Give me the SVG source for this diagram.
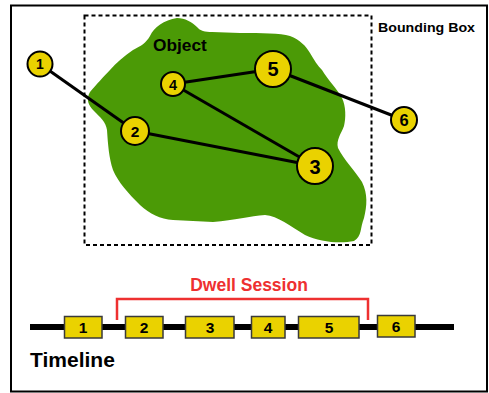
<svg xmlns="http://www.w3.org/2000/svg" width="489" height="393" viewBox="0 0 489 393">
  <style>
    .lbl { font-family: "Liberation Sans", Arial, sans-serif; font-weight: bold; }
    .pt circle { fill: #ead200; stroke: #000; stroke-width: 2; }
    .pt text, .ev text { font-family: "Liberation Sans", Arial, sans-serif; font-weight: bold; fill: #000; text-anchor: middle; }
    .ev rect { fill: #ead200; stroke: #3a3a3a; stroke-width: 1.5; }
    .link { stroke: #000; stroke-width: 3; fill: none; }
  </style>

  <!-- frame -->
  <rect x="11" y="5.5" width="476" height="386" fill="#fff" stroke="#000" stroke-width="2"/>

  <!-- object region -->
  <path id="object" fill="#4b9a06" d="M90,92 C96,85 104,76 110,70 C116,63 124,56 133,50 C141,46 146,43 150,36 C154,27 164,20 177,18 C185,18 192,22 197,27 C200,31 205,32 212,32 L240,33 C262,33 280,33 290,36 C300,40 306,46 310,53 C314,60 318,66 322,70 C328,80 338,90 342,98 C346,106 346,118 344,126 C341,134 336,140 338,148 C344,160 356,172 362,182 C368,194 367,206 364,218 C360,228 362,236 354,241 C340,244 320,242 305,235 C290,226 278,216 265,215 C250,216 235,220 213,222 L173,220 C160,219 150,214 140,205 C128,193 118,182 113,170 C109,158 108,145 107,130 C106,122 100,117 94,111 C88,105 86,99 90,92 Z"/>

  <!-- bounding box -->
  <rect x="84.5" y="15.5" width="287" height="229.5" fill="none" stroke="#000" stroke-width="2" stroke-dasharray="4,3"/>
  <text class="lbl" x="378" y="32" font-size="13.5" textLength="97" lengthAdjust="spacingAndGlyphs">Bounding Box</text>
  <text class="lbl" x="153" y="51" font-size="17.3">Object</text>

  <!-- trajectory -->
  <g id="connectors">
    <line class="link" x1="40" y1="64" x2="135" y2="131"/>
    <line class="link" x1="135" y1="131" x2="315" y2="166"/>
    <line class="link" x1="173" y1="84" x2="315" y2="166"/>
    <line class="link" x1="173" y1="84" x2="273" y2="69"/>
    <line class="link" x1="273" y1="69" x2="404" y2="120"/>
  </g>

  <g id="p1" class="pt"><circle cx="40" cy="64" r="12.5"/><text x="40" y="69" font-size="14">1</text></g>
  <g id="p2" class="pt"><circle cx="135" cy="131" r="14"/><text x="135" y="137" font-size="15.5">2</text></g>
  <g id="p3" class="pt"><circle cx="315" cy="166" r="18"/><text x="315" y="173.5" font-size="20">3</text></g>
  <g id="p4" class="pt"><circle cx="173" cy="84" r="12"/><text x="173" y="89.5" font-size="14.5">4</text></g>
  <g id="p5" class="pt"><circle cx="273" cy="69" r="18"/><text x="273" y="76" font-size="20">5</text></g>
  <g id="p6" class="pt"><circle cx="404" cy="120" r="13"/><text x="404" y="126" font-size="16.5">6</text></g>

  <!-- timeline -->
  <line x1="30" y1="327" x2="454" y2="327" stroke="#000" stroke-width="6"/>
  <text class="lbl" x="30" y="367" font-size="21">Timeline</text>

  <!-- dwell session bracket -->
  <path d="M117,320 V299 H368 V320" fill="none" stroke="#ee3030" stroke-width="2.5"/>
  <text class="lbl" x="249" y="291" font-size="17.5" fill="#ee3030" text-anchor="middle">Dwell Session</text>

  <g id="e1" class="ev"><rect x="64.5" y="316.5" width="37.5" height="21.5"/><text x="83" y="333" font-size="15.5">1</text></g>
  <g id="e2" class="ev"><rect x="125.5" y="316.5" width="37.5" height="21.5"/><text x="144" y="333" font-size="15.5">2</text></g>
  <g id="e3" class="ev"><rect x="185.5" y="316.5" width="48.5" height="21.5"/><text x="210" y="333" font-size="15.5">3</text></g>
  <g id="e4" class="ev"><rect x="251.5" y="316.5" width="33.5" height="21.5"/><text x="268" y="333" font-size="15.5">4</text></g>
  <g id="e5" class="ev"><rect x="298.5" y="316.5" width="60.5" height="21.5"/><text x="329" y="333" font-size="15.5">5</text></g>
  <g id="e6" class="ev"><rect x="377.5" y="315.5" width="37.5" height="21.5"/><text x="396" y="332" font-size="15.5">6</text></g>
</svg>
